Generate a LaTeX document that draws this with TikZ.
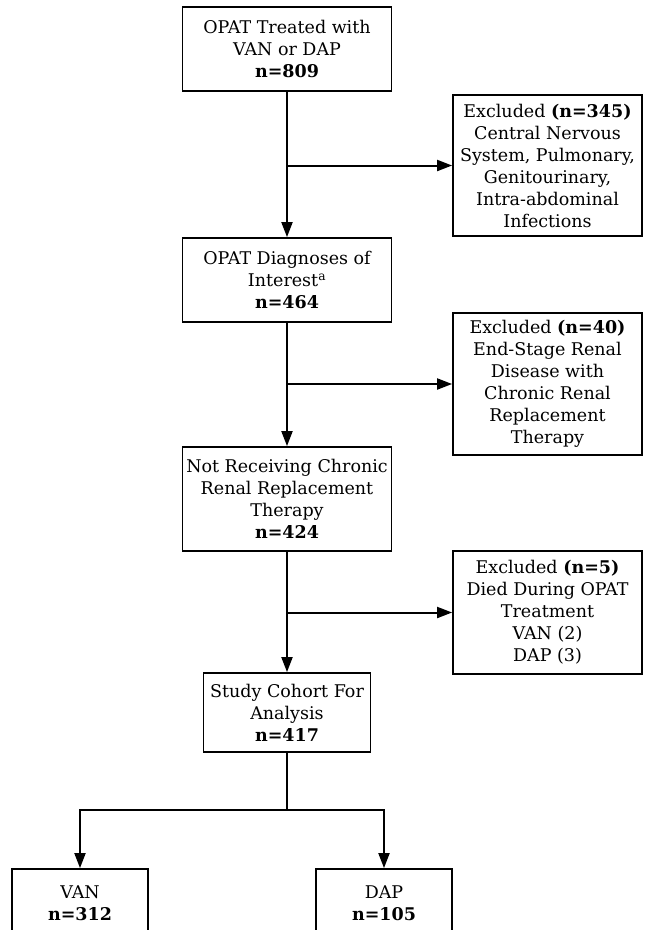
\documentclass[tikz,border=0pt]{standalone}
\usepackage{fontspec}
\setmainfont{DejaVu Serif}
\usetikzlibrary{positioning,arrows.meta}

\begin{document}
\begin{tikzpicture}[x=1pt, y=-1pt, line width=2pt,
    >={Triangle[length=15pt,width=11pt]},
    box/.style={draw, line width=1.8pt, align=center, inner sep=0pt,
      font=\fontsize{17.5}{22}\selectfont},
    mainbox/.style={box, minimum width=209pt},
    exclbox/.style={box, minimum width=189pt}]
    \useasboundingbox (0,0) rectangle (645,930);

    % Main flow
    \node[mainbox, minimum height=84pt] (treated) at (287,49) {OPAT Treated with\\VAN or DAP\\\textbf{n=809}};
    \node[mainbox, minimum height=84pt] (diag) at (287,280) {OPAT Diagnoses of\\Interest\textsuperscript{a}\\\textbf{n=464}};
    \node[mainbox, minimum height=104pt] (recv) at (287,499) {Not Receiving Chronic\\Renal Replacement\\Therapy\\\textbf{n=424}};
    \node[box, minimum width=167pt, minimum height=79pt] (cohort) at (287,712.5) {Study Cohort For\\Analysis\\\textbf{n=417}};

    % Exclusions
    \node[exclbox, minimum height=141pt] (excl1) at (547.5,165.5) {Excluded \textbf{(n=345)}\\Central Nervous\\System, Pulmonary,\\Genitourinary,\\Intra-abdominal\\Infections};
    \node[exclbox, minimum height=142pt] (excl2) at (547.5,384) {Excluded \textbf{(n=40)}\\End-Stage Renal\\Disease with\\Chronic Renal\\Replacement\\Therapy};
    \node[exclbox, minimum height=123pt] (excl3) at (547.5,612.5) {Excluded \textbf{(n=5)}\\Died During OPAT\\Treatment\\VAN (2)\\DAP (3)};

    % Groups
    \node[box, minimum width=136pt, minimum height=68pt] (van) at (80,903) {VAN\\\textbf{n=312}};
    \node[box, minimum width=136pt, minimum height=68pt] (dap) at (384,903) {DAP\\\textbf{n=105}};

    % Connectors
    \draw[->] (treated.south) -- (diag.north);
    \draw[->] (diag.south) -- (recv.north);
    \draw[->] (recv.south) -- (cohort.north);
    \draw[->] (treated.south |- excl1.west) -- (excl1.west);
    \draw[->] (diag.south |- excl2.west) -- (excl2.west);
    \draw[->] (recv.south |- excl3.west) -- (excl3.west);

    \coordinate (split) at (cohort.south |- 0,810);
    \draw (cohort.south) -- (split);
    \draw[->] (split) -| (van.north);
    \draw[->] (split) -| (dap.north);
\end{tikzpicture}
\end{document}
